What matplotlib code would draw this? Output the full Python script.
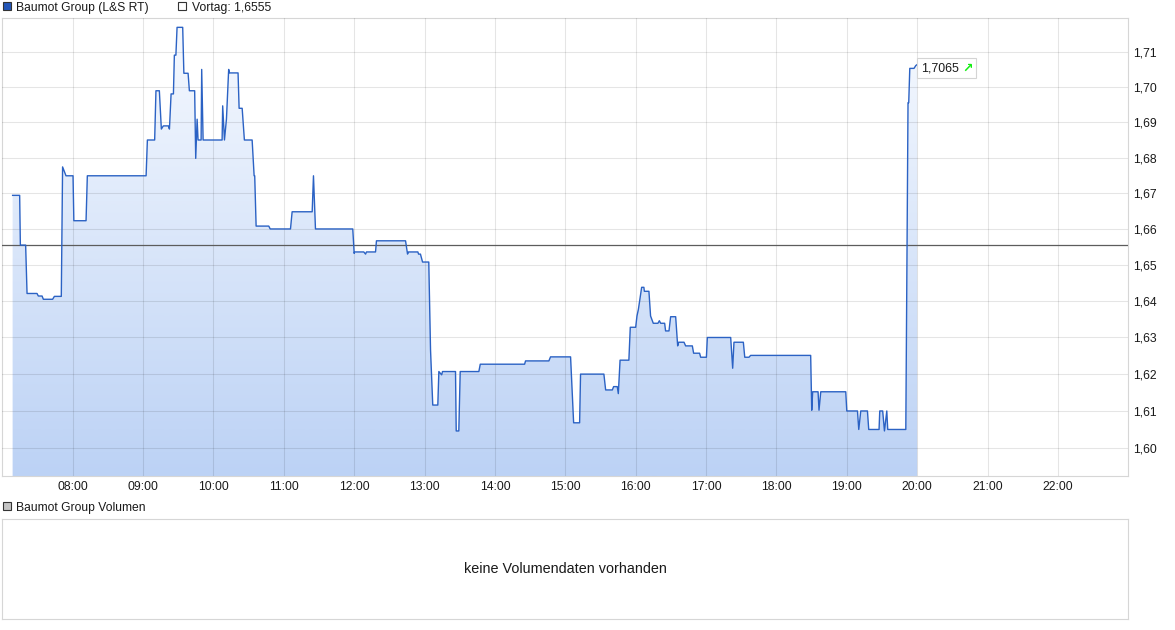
import matplotlib

matplotlib.use("Agg")

import matplotlib.pyplot as plt  # noqa: E402
import numpy as np  # noqa: E402
import pandas as pd  # noqa: E402
from matplotlib.colors import LinearSegmentedColormap  # noqa: E402
from matplotlib.image import AxesImage  # noqa: E402
from matplotlib.offsetbox import AnnotationBbox, HPacker, TextArea  # noqa: E402
from matplotlib.patches import Rectangle  # noqa: E402
from matplotlib.ticker import FixedLocator, FuncFormatter, NullFormatter, NullLocator  # noqa: E402

plt.rcParams["font.family"] = ["Liberation Sans", "DejaVu Sans"]

# --- data ------------------------------------------------------------------
series_name = "Baumot Group (L&S RT)"
volume_name = "Baumot Group Volumen"
no_volume_text = "keine Volumendaten vorhanden"
prev_close = 1.6555
last_price = 1.7065

times = [
    "07:08:48", "07:14:48", "07:15:24", "07:19:54", "07:21:06", "07:29:36",
    "07:30:42", "07:33:54", "07:35:00", "07:42:54", "07:44:24", "07:50:18",
    "07:51:24", "07:54:18", "08:00:18", "08:01:00", "08:11:24", "08:12:30",
    "09:02:36", "09:03:42", "09:09:54", "09:11:00", "09:13:54", "09:15:36",
    "09:17:18", "09:21:36", "09:22:30", "09:23:54", "09:25:54", "09:26:42",
    "09:28:00", "09:29:00", "09:33:48", "09:34:48", "09:38:24", "09:39:30",
    "09:44:00", "09:44:54", "09:46:06", "09:46:54", "09:49:30", "09:50:00",
    "09:51:12", "10:07:24", "10:07:54", "10:09:24", "10:11:06", "10:13:00",
    "10:13:36", "10:21:00", "10:21:54", "10:24:30", "10:26:24", "10:33:00",
    "10:34:42", "10:35:12", "10:36:24", "10:47:12", "10:48:24", "11:05:42",
    "11:07:06", "11:24:12", "11:25:18", "11:27:00", "11:58:48", "12:00:00",
    "12:00:18", "12:08:12", "12:09:42", "12:10:30", "12:18:12", "12:19:00",
    "12:43:48", "12:45:30", "12:46:18", "12:54:18", "12:54:54", "12:56:30",
    "12:58:18", "13:03:36", "13:05:06", "13:07:00", "13:11:18", "13:12:12",
    "13:14:36", "13:15:18", "13:26:24", "13:27:00", "13:29:12", "13:30:24",
    "13:46:18", "13:47:30", "14:25:18", "14:26:06", "14:46:00", "14:47:24",
    "15:04:30", "15:07:06", "15:12:12", "15:13:00", "15:32:54", "15:34:24",
    "15:40:06", "15:41:12", "15:44:18", "15:45:12", "15:46:42", "15:54:12",
    "15:55:24", "16:00:00", "16:01:06", "16:02:18", "16:05:06", "16:07:00",
    "16:07:24", "16:11:18", "16:12:42", "16:15:00", "16:19:00", "16:20:12",
    "16:21:18", "16:24:42", "16:25:30", "16:28:24", "16:29:48", "16:34:06",
    "16:35:48", "16:36:36", "16:41:12", "16:42:36", "16:48:18", "16:49:24",
    "16:54:30", "16:55:24", "17:00:18", "17:01:06", "17:21:00", "17:22:42",
    "17:23:48", "17:31:48", "17:33:00", "17:36:36", "17:38:00", "18:29:12",
    "18:30:06", "18:30:54", "18:35:30", "18:36:18", "18:37:48", "18:59:06",
    "19:00:00", "19:09:06", "19:10:12", "19:11:54", "19:17:36", "19:18:42",
    "19:27:30", "19:28:06", "19:30:36", "19:32:06", "19:34:06", "19:34:54",
    "19:50:18", "19:52:12", "19:52:48", "19:53:42", "19:57:18", "19:58:48",
    "20:00:00",
]

prices = [
    1.6694, 1.6694, 1.6555, 1.6555, 1.6421, 1.6421,
    1.6414, 1.6414, 1.6405, 1.6405, 1.6413, 1.6413,
    1.6774, 1.6749, 1.6749, 1.6623, 1.6623, 1.6749,
    1.6749, 1.6850, 1.6850, 1.6990, 1.6990, 1.6881,
    1.6890, 1.6890, 1.6881, 1.6981, 1.6981, 1.7092,
    1.7092, 1.7172, 1.7172, 1.7040, 1.7040, 1.6990,
    1.6990, 1.6798, 1.6909, 1.6850, 1.6850, 1.7051,
    1.6850, 1.6850, 1.6947, 1.6850, 1.6909, 1.7051,
    1.7041, 1.7041, 1.6940, 1.6940, 1.6850, 1.6850,
    1.6749, 1.6749, 1.6608, 1.6608, 1.6600, 1.6600,
    1.6648, 1.6648, 1.6749, 1.6600, 1.6600, 1.6532,
    1.6536, 1.6536, 1.6530, 1.6536, 1.6536, 1.6567,
    1.6567, 1.6530, 1.6536, 1.6536, 1.6530, 1.6530,
    1.6508, 1.6508, 1.6266, 1.6116, 1.6116, 1.6207,
    1.6198, 1.6207, 1.6207, 1.6046, 1.6046, 1.6207,
    1.6207, 1.6227, 1.6227, 1.6236, 1.6236, 1.6247,
    1.6247, 1.6068, 1.6068, 1.6200, 1.6200, 1.6157,
    1.6157, 1.6166, 1.6166, 1.6147, 1.6238, 1.6238,
    1.6328, 1.6328, 1.6359, 1.6377, 1.6438, 1.6438,
    1.6427, 1.6427, 1.6359, 1.6339, 1.6339, 1.6346,
    1.6339, 1.6339, 1.6318, 1.6318, 1.6357, 1.6357,
    1.6277, 1.6287, 1.6287, 1.6277, 1.6277, 1.6257,
    1.6257, 1.6246, 1.6246, 1.6300, 1.6300, 1.6216,
    1.6287, 1.6287, 1.6246, 1.6246, 1.6251, 1.6251,
    1.6102, 1.6152, 1.6152, 1.6102, 1.6152, 1.6152,
    1.6100, 1.6100, 1.6050, 1.6100, 1.6100, 1.6050,
    1.6050, 1.6100, 1.6100, 1.6046, 1.6100, 1.6050,
    1.6050, 1.6956, 1.6956, 1.7054, 1.7054, 1.7062,
    1.7065,
]

price_ticks = [1.60, 1.61, 1.62, 1.63, 1.64, 1.65, 1.66, 1.67, 1.68, 1.69, 1.70, 1.71]
hour_ticks = [8, 9, 10, 11, 12, 13, 14, 15, 16, 17, 18, 19, 20, 21, 22]

# --- layout ------------------------------------------------------------------
W, H = 1175, 630
X_RANGE = (7, 23)
Y_RANGE = (1.5925, 1.7199)
TEXT = "#1a1a1a"
FRAME = "#d6d6d6"


def fig_box(left, top, right, bottom):
    """Pixel box (from top-left) -> figure fraction rect."""
    return [left / W, 1 - bottom / H, (right - left) / W, (bottom - top) / H]


def de_num(value, _pos=None, digits=2):
    return f"{value:.{digits}f}".replace(".", ",")


hours = pd.to_timedelta(times).total_seconds().to_numpy() / 3600.0
prices = np.asarray(prices)

fig = plt.figure(figsize=(W / 100, H / 100), dpi=100)
ax = fig.add_axes(fig_box(2.3, 18, 1128.3, 476))
ax.set_yscale("log")

# gradient fill under the price line
fill = ax.fill_between(hours, prices, Y_RANGE[0], color="none", lw=0)
cmap = LinearSegmentedColormap.from_list("area", ["#bcd2f5", "#f7faff"])
grad = AxesImage(ax, cmap=cmap, origin="lower", extent=(0, 1, 0, 1),
                 transform=ax.transAxes, interpolation="bilinear", zorder=1)
grad.set_data(np.linspace(0, 1, 256).reshape(-1, 1))
ax.add_image(grad)
grad.set_clip_path(fill.get_paths()[0], transform=ax.transData)

ax.axhline(prev_close, color="#5c5c5c", lw=0.9, zorder=2.8)
ax.plot(hours, prices, color="#2b62c4", lw=1.0, zorder=3)

ax.set_xlim(*X_RANGE)
ax.set_ylim(*Y_RANGE)

ax.yaxis.set_major_locator(FixedLocator(price_ticks))
ax.yaxis.set_minor_locator(NullLocator())
ax.yaxis.set_major_formatter(FuncFormatter(de_num))
ax.yaxis.set_minor_formatter(NullFormatter())
ax.yaxis.tick_right()
ax.xaxis.set_major_locator(FixedLocator(hour_ticks))
ax.xaxis.set_major_formatter(FuncFormatter(lambda v, _p: f"{int(round(v)):02d}:00"))
ax.tick_params(axis="both", length=0, labelsize=8.7, labelcolor=TEXT)
ax.tick_params(axis="y", pad=3.5)
ax.tick_params(axis="x", pad=3.5)
ax.set_axisbelow(False)
ax.grid(True, color="#000000", alpha=0.10, lw=0.75)
for spine in ax.spines.values():
    spine.set_color(FRAME)
    spine.set_linewidth(0.8)

# last price tag
tag = HPacker(
    children=[
        TextArea(de_num(last_price, digits=4), textprops=dict(color=TEXT, fontsize=8.9)),
        TextArea("\u2197", textprops=dict(color="#11ee11", fontsize=9,
                                          family="DejaVu Sans", fontweight="bold")),
    ],
    align="center", pad=0, sep=2,
)
ab = AnnotationBbox(tag, (hours[-1], prices[-1]), xybox=(4, -3.5),
                    xycoords="data", boxcoords="offset pixels",
                    box_alignment=(0, 0.5), frameon=True, pad=0.28,
                    annotation_clip=False,
                    bboxprops=dict(edgecolor="#d4d4d4", facecolor="white", lw=0.8))
ax.add_artist(ab)

# volume panel (empty)
vax = fig.add_axes(fig_box(2.3, 519.3, 1128.3, 619.3))
vax.set_xticks([])
vax.set_yticks([])
for spine in vax.spines.values():
    spine.set_color(FRAME)
    spine.set_linewidth(0.8)
vax.text(0.5, 0.5, no_volume_text, transform=vax.transAxes, ha="center",
         va="center", fontsize=10.4, color=TEXT)


# legends drawn in pixel space
def px(x, y):
    return x / W, 1 - y / H


def legend_entry(x, y_top, face, label):
    sx, sy = px(x, y_top + 8)
    fig.add_artist(Rectangle((sx, sy), 8 / W, 8 / H, transform=fig.transFigure,
                             facecolor=face, edgecolor="#333333", lw=0.8))
    tx, ty = px(x + 13.5, y_top + 9.5)
    fig.text(tx, ty, label, fontsize=8.7, color=TEXT, va="baseline", ha="left")


legend_entry(3, 1.5, "#2456b8", series_name)
legend_entry(178, 1.5, "white", "Vortag: " + de_num(prev_close, digits=4))
legend_entry(3, 502, "#c4c4c4", volume_name)

fig.savefig("out.png", dpi=100)
